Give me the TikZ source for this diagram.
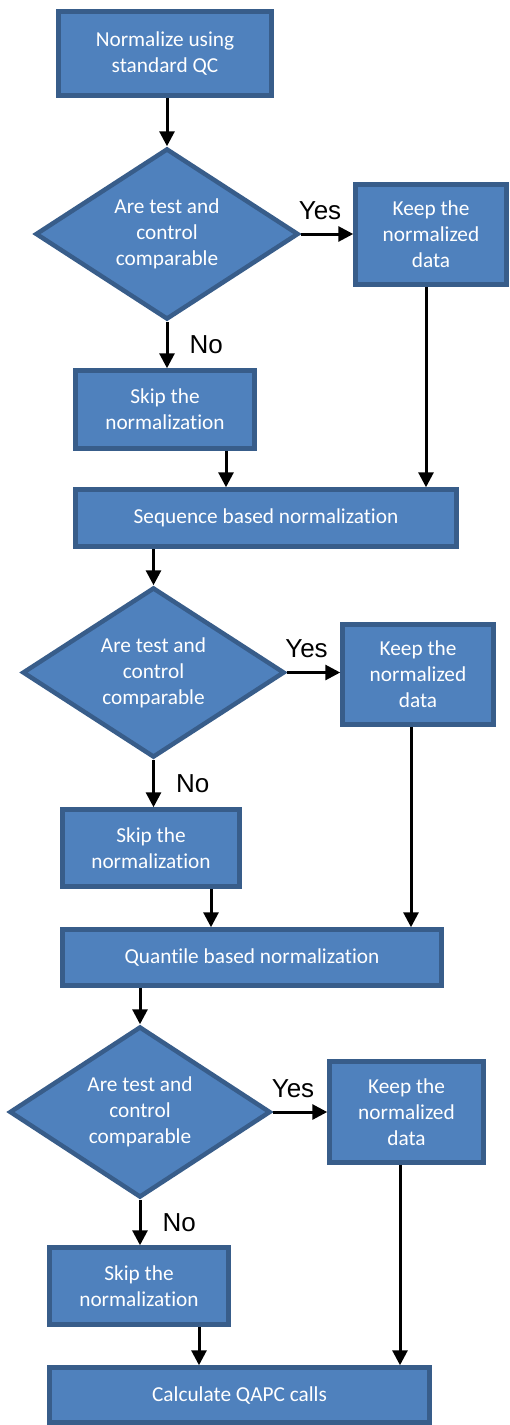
\documentclass[tikz,border=0pt]{standalone}
\usepackage{fontspec}
\setmainfont{Carlito}[Ligatures=NoCommon]
\newfontfamily\arialfont{Liberation Sans}
\usetikzlibrary{shapes.geometric, arrows.meta, positioning}

\definecolor{boxfill}{HTML}{4F81BD}
\definecolor{boxline}{HTML}{385D8A}

\begin{document}
\begin{tikzpicture}[x=1pt, y=-1pt,
  box/.style={rectangle, fill=boxfill, draw=boxline, line width=4.5pt,
    text=white, align=center, font=\fontsize{21.3}{26}\selectfont},
  decision/.style={diamond, fill=boxfill, draw=boxline, line width=4.5pt,
    text=white, align=center, font=\fontsize{21.3}{26}\selectfont,
    shape aspect=1.54, inner sep=0pt},
  arr/.style={line width=3pt, -{Triangle[length=15pt, width=15pt]}},
  lbl/.style={font=\arialfont\fontsize{26}{30}\selectfont, inner sep=0pt}]

\useasboundingbox (0,0) rectangle (509,1425);

% First round: standard QC
\node[box, minimum width=213pt, minimum height=84pt] (qc) at (165,53.5) {Normalize using\\standard QC};
\node[decision, minimum width=263pt, minimum height=171pt] (cmpA) at (167,234) {Are test and\\control\\comparable};
\node[box, minimum width=151pt, minimum height=100pt] (keepA) at (431,234.5) {Keep the\\normalized\\data};
\node[box, minimum width=179pt, minimum height=78pt] (skipA) at (165,409.5) {Skip the\\normalization};
\node[box, minimum width=381pt, minimum height=57pt] (seq) at (266,518) {Sequence based normalization};

\draw[arr] (cmpA.north |- qc.south) -- (cmpA.north);
\draw[arr] (cmpA.east) -- node[lbl, above=13pt, xshift=-7pt] {Yes} (cmpA.east -| keepA.west);
\draw[arr] (cmpA.south) -- node[lbl, right=21pt] {No} (cmpA.south |- skipA.north);
\draw[arr] ([xshift=61pt]skipA.south) -- ([xshift=61pt]skipA.south |- seq.north);
\draw[arr] ([xshift=-5pt]keepA.south) -- ([xshift=-5pt]keepA.south |- seq.north);

% Second round: sequence based
\node[decision, minimum width=262pt, minimum height=170pt] (cmpB) at (153.5,672.5) {Are test and\\control\\comparable};
\node[box, minimum width=151pt, minimum height=100pt] (keepB) at (418,674.5) {Keep the\\normalized\\data};
\node[box, minimum width=177pt, minimum height=77pt] (skipB) at (151,848) {Skip the\\normalization};
\node[box, minimum width=379pt, minimum height=56pt] (quant) at (252,957.5) {Quantile based normalization};

\draw[arr] (cmpB.north |- seq.south) -- (cmpB.north);
\draw[arr] (cmpB.east) -- node[lbl, above=13pt, xshift=-7pt] {Yes} (cmpB.east -| keepB.west);
\draw[arr] (cmpB.south) -- node[lbl, right=21pt] {No} (cmpB.south |- skipB.north);
\draw[arr] ([xshift=60pt]skipB.south) -- ([xshift=60pt]skipB.south |- quant.north);
\draw[arr] ([xshift=-7pt]keepB.south) -- ([xshift=-7pt]keepB.south |- quant.north);

% Third round: quantile based
\node[decision, minimum width=261pt, minimum height=171pt] (cmpC) at (140,1112) {Are test and\\control\\comparable};
\node[box, minimum width=154pt, minimum height=101pt] (keepC) at (406.5,1112) {Keep the\\normalized\\data};
\node[box, minimum width=179pt, minimum height=77pt] (skipC) at (139,1286) {Skip the\\normalization};
\node[box, minimum width=380pt, minimum height=55pt] (calc) at (239.5,1395) {Calculate QAPC calls};

\draw[arr] (cmpC.north |- quant.south) -- (cmpC.north);
\draw[arr] (cmpC.east) -- node[lbl, above=13pt, xshift=-7pt] {Yes} (cmpC.east -| keepC.west);
\draw[arr] (cmpC.south) -- node[lbl, right=21pt] {No} (cmpC.south |- skipC.north);
\draw[arr] ([xshift=60pt]skipC.south) -- ([xshift=60pt]skipC.south |- calc.north);
\draw[arr] ([xshift=-6.5pt]keepC.south) -- ([xshift=-6.5pt]keepC.south |- calc.north);

\end{tikzpicture}
\end{document}
